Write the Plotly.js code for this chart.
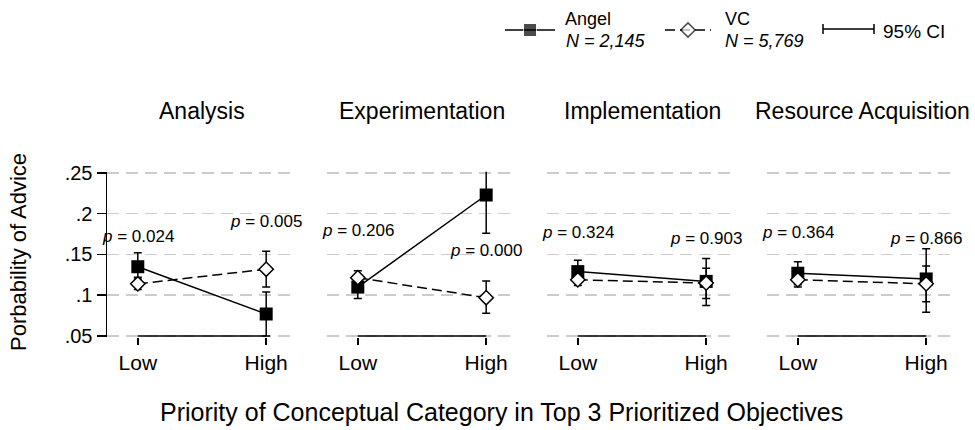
<!DOCTYPE html>
<html>
<head>
<meta charset="utf-8">
<script src="https://cdn.plot.ly/plotly-3.0.1.min.js"></script>
<style>html,body{margin:0;padding:0;background:#fff;}</style>
</head>
<body>
<div id="chart" style="width:975px;height:430px;"></div>
<script>
// ---- data ----
const categories = ['Low', 'High'];
const panels = ['Analysis', 'Experimentation', 'Implementation', 'Resource Acquisition'];
const angelMean = [[0.135, 0.077], [0.110, 0.223], [0.129, 0.117], [0.127, 0.120]];
const angelLow  = [[0.120, 0.050], [0.096, 0.176], [0.115, 0.0875], [0.113, 0.079]];
const angelHigh = [[0.152, 0.104], [0.125, 0.272], [0.143, 0.145], [0.141, 0.157]];
const vcMean = [[0.114, 0.132], [0.1215, 0.097], [0.119, 0.115], [0.119, 0.114]];
const vcLow  = [[0.107, 0.110], [0.114, 0.078], [0.112, 0.096], [0.110, 0.092]];
const vcHigh = [[0.122, 0.154], [0.130, 0.1175], [0.125, 0.133], [0.127, 0.136]];
const pLow  = ['0.024', '0.206', '0.324', '0.364'];
const pHigh = ['0.005', '0.000', '0.903', '0.866'];
const yTickVals = [0.05, 0.10, 0.15, 0.20, 0.25];
const yTickText = ['.05', '.1', '.15', '.2', '.25'];
const legendNames = ['Angel', 'VC', '95% CI'];
const legendN = ['N = 2,145', 'N = 5,769'];

// ---- layout config (positions/styles) ----
const W = 975, H = 430;
const FONT = 'Liberation Sans, Arial, Helvetica, sans-serif';
const panelLeft = [107, 327, 547, 767];
const panelWidth = 190;
const y05px = 336, y25px = 173;          // pixel rows of .05 and .25
const pad = 0.0015;                      // small pad so edge gridlines are drawn
const pxPerUnit = (y05px - y25px) / 0.20;
const yRange = [0.05 - pad, 0.25 + pad];
const plotBottom = y05px + pad * pxPerUnit, plotTop = y25px - pad * pxPerUnit;
const pLowY = [0.1715, 0.180, 0.1765, 0.1765];
const pHighY = [0.190, 0.1555, 0.170, 0.170];

const traces = [];
const layout = {
  width: W, height: H,
  margin: {l: 0, r: 0, t: 0, b: 0},
  paper_bgcolor: '#fff', plot_bgcolor: 'rgba(0,0,0,0)',
  showlegend: false,
  font: {family: FONT, color: '#000'},
  shapes: [], annotations: []
};

panels.forEach((name, i) => {
  const n = i + 1;
  const xa = 'xaxis' + (n === 1 ? '' : n), ya = 'yaxis' + (n === 1 ? '' : n);
  const xr = 'x' + (n === 1 ? '' : n), yr = 'y' + (n === 1 ? '' : n);
  layout[xa] = {
    type: 'category', categoryorder: 'array', categoryarray: categories,
    domain: [panelLeft[i] / W, (panelLeft[i] + panelWidth) / W],
    range: [-0.24, 1.24], anchor: yr,
    showgrid: false, zeroline: false, showline: false,
    ticks: 'outside', ticklen: 7, tickwidth: 1.5, tickcolor: '#000',
    tickfont: {size: 21, family: FONT, color: '#000'}, fixedrange: true
  };
  layout[ya] = {
    domain: [(H - plotBottom) / H, (H - plotTop) / H],
    range: yRange, anchor: xr,
    tickvals: yTickVals, ticktext: yTickText,
    showgrid: true, gridcolor: '#cccccc', gridwidth: 1.5, griddash: '12px,7px',
    zeroline: false,
    showline: n === 1, linecolor: '#000', linewidth: 1.5,
    ticks: n === 1 ? 'outside' : '', ticklen: 9, tickwidth: 1.5, tickcolor: '#000',
    showticklabels: n === 1,
    tickfont: {size: 20, family: FONT, color: '#000'}, fixedrange: true
  };
  // x axis line spanning Low..High at the bottom gridline
  layout.shapes.push({type: 'line', xref: xr, yref: yr, x0: categories[0], x1: categories[1],
    y0: yTickVals[0], y1: yTickVals[0], line: {color: '#000', width: 1.5}, layer: 'above'});

  traces.push({
    x: categories, y: angelMean[i], xaxis: xr, yaxis: yr, type: 'scatter', mode: 'lines+markers',
    line: {color: '#000', width: 1.5},
    marker: {symbol: 'square', size: 13, color: '#000'},
    error_y: {type: 'data', symmetric: false,
      array: angelHigh[i].map((v, k) => v - angelMean[i][k]),
      arrayminus: angelMean[i].map((v, k) => v - angelLow[i][k]),
      color: '#000', thickness: 1.5, width: 4},
    cliponaxis: false
  });
  traces.push({
    x: categories, y: vcMean[i], xaxis: xr, yaxis: yr, type: 'scatter', mode: 'lines+markers',
    line: {color: '#000', width: 1.5, dash: '10px,5px'},
    marker: {symbol: 'diamond', size: 11, color: '#fff', line: {color: '#000', width: 1.5}},
    error_y: {type: 'data', symmetric: false,
      array: vcHigh[i].map((v, k) => v - vcMean[i][k]),
      arrayminus: vcMean[i].map((v, k) => v - vcLow[i][k]),
      color: '#000', thickness: 1.5, width: 4},
    cliponaxis: false
  });

  // panel titles
  layout.annotations.push({text: name, xref: xr + ' domain', yref: 'paper', x: 0.5, y: (H - 111) / H,
    xanchor: 'center', yanchor: 'middle', showarrow: false, font: {size: 23, family: FONT, color: '#000'}});
  // p-values
  layout.annotations.push({text: '<i>p</i> = ' + pLow[i], xref: xr, yref: yr, x: categories[0], y: pLowY[i],
    xanchor: 'center', yanchor: 'middle', showarrow: false, font: {size: 17, family: FONT, color: '#000'}});
  layout.annotations.push({text: '<i>p</i> = ' + pHigh[i], xref: xr, yref: yr, x: categories[1], y: pHighY[i],
    xanchor: 'center', yanchor: 'middle', showarrow: false, font: {size: 17, family: FONT, color: '#000'}});
});

// axis titles
layout.annotations.push({text: 'Porbability of Advice', xref: 'paper', yref: 'paper', x: 18 / W, y: (H - 252) / H,
  textangle: -90, xanchor: 'center', yanchor: 'middle', showarrow: false, font: {size: 22, family: FONT, color: '#000'}});
layout.annotations.push({text: 'Priority of Conceptual Category in Top 3 Prioritized Objectives', xref: 'paper', yref: 'paper',
  x: 501 / W, y: (H - 412) / H, xanchor: 'center', yanchor: 'middle', showarrow: false,
  font: {size: 25, family: FONT, color: '#000'}});

// ---- custom legend on a pixel-scaled overlay axis ----
layout.xaxis5 = {domain: [0, 1], range: [0, W], visible: false, fixedrange: true, anchor: 'y5'};
layout.yaxis5 = {domain: [0, 1], range: [H, 0], visible: false, fixedrange: true, anchor: 'x5'};
traces.push({x: [505, 530, 555], y: [30, 30, 30], xaxis: 'x5', yaxis: 'y5', mode: 'lines+markers',
  line: {color: '#000', width: 1.5}, marker: {symbol: 'square', size: [0, 13, 0], color: '#000'}, hoverinfo: 'skip'});
traces.push({x: [665, 688, 711], y: [30, 30, 30], xaxis: 'x5', yaxis: 'y5', mode: 'lines+markers',
  line: {color: '#000', width: 1.5, dash: '10px,5px'},
  marker: {symbol: 'diamond', size: [0, 11, 0], color: '#fff', line: {color: '#000', width: 1.5}}, hoverinfo: 'skip'});
traces.push({x: [848.5], y: [29], xaxis: 'x5', yaxis: 'y5', mode: 'markers',
  marker: {size: 1, opacity: 0}, hoverinfo: 'skip',
  error_x: {type: 'constant', value: 25.5, color: '#000', thickness: 1.5, width: 5}});
const legFont = {size: 18, family: FONT, color: '#000'};
[[563, 19, legendNames[0]], [564, 41, '<i>' + legendN[0] + '</i>'],
 [723, 19, legendNames[1]], [723, 41, '<i>' + legendN[1] + '</i>'],
 [881, 31, legendNames[2]]].forEach(([x, y, t]) => {
  layout.annotations.push({text: t, xref: 'x5', yref: 'y5', x: x, y: y, xanchor: 'left', yanchor: 'middle',
    showarrow: false, font: x === 881 ? {size: 19, family: FONT, color: '#000'} : legFont});
});

Plotly.newPlot('chart', traces, layout, {staticPlot: true, displayModeBar: false});
</script>
</body>
</html>
